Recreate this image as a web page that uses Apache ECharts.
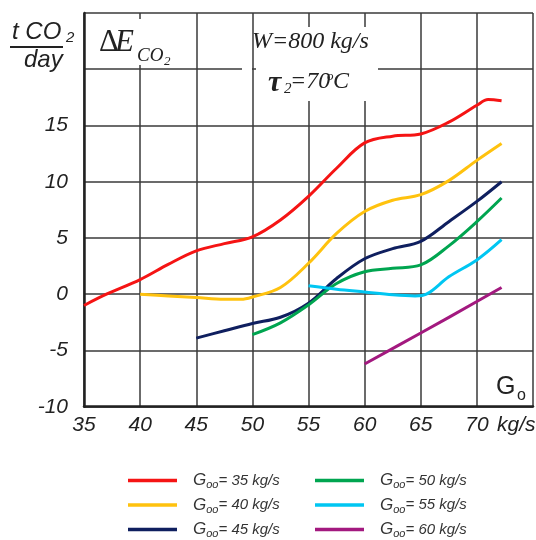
<!DOCTYPE html>
<html><head><meta charset="utf-8">
<script src="https://cdn.jsdelivr.net/npm/echarts@6/dist/echarts.min.js"></script>
<style>html,body{margin:0;padding:0;background:#fff}#c{width:536px;height:540px}</style>
</head><body><div id="c"></div>
<script>
// ---- data ----
const xTicks = [35, 40, 45, 50, 55, 60, 65, 70];
const yTicks = [-10, -5, 0, 5, 10, 15];
const legendValues = ['35', '40', '45', '50', '55', '60'];
const seriesColors = ['#f51414', '#ffc20e', '#0f1f5f', '#00a550', '#00c6f2', '#a3197f'];
const g35 = [[35,-1.0],[37,0.0],[40,1.3],[42.5,2.65],[45,3.85],[47.5,4.5],[50,5.1],[52.5,6.6],[55,8.7],[57.5,11.2],[60,13.45],[62.5,14.05],[65,14.25],[67.5,15.3],[70,16.8],[71,17.3],[72.2,17.2]];
const g40 = [[40,0.0],[42.5,-0.15],[45,-0.3],[47.5,-0.45],[49,-0.45],[50,-0.25],[52.5,0.6],[55,2.75],[57.5,5.4],[60,7.35],[62.5,8.35],[65,8.85],[67.5,10.1],[70,11.9],[72.2,13.4]];
const g45 = [[45,-3.9],[47.5,-3.25],[50,-2.6],[52.5,-2.05],[55,-0.8],[57.5,1.4],[60,3.15],[62.5,4.05],[65,4.7],[67.5,6.45],[70,8.25],[72.2,10.0]];
const g50 = [[50,-3.6],[52.5,-2.55],[55,-0.95],[57.5,0.95],[60,2.0],[62.5,2.3],[65,2.6],[67.5,4.3],[70,6.45],[72.2,8.55]];
const g55 = [[55,0.75],[57.5,0.45],[60,0.2],[62.5,-0.05],[64.5,-0.15],[65.5,0.0],[67.5,1.55],[70,3.05],[72.2,4.85]];
const g60 = [[60,-6.2],[65,-3.45],[70,-0.65],[72.2,0.6]];
const allSeries = [g35, g40, g45, g50, g55, g60];

const SANS = '"Liberation Sans", Arial, sans-serif';
const SERIF = '"Liberation Serif", "Times New Roman", serif';
const GRID = '#3a3a3a';

const chart = echarts.init(document.getElementById('c'), null, {renderer: 'canvas'});

const series = allSeries.map((d, i) => ({
  name: 'G' + legendValues[i],
  type: 'line',
  data: d,
  smooth: 0.35,
  symbol: 'none',
  z: 20,
  lineStyle: {color: seriesColors[i], width: 3},
  itemStyle: {color: seriesColors[i]}
}));

const legendRich = {
  sp: {width: 11, lineHeight: 20},
  g: {fontFamily: SANS, fontStyle: 'italic', fontSize: 17, color: '#333', lineHeight: 20},
  s: {fontFamily: SANS, fontStyle: 'italic', fontSize: 11, color: '#333', lineHeight: 10, verticalAlign: 'bottom'},
  t: {fontFamily: SANS, fontStyle: 'italic', fontSize: 15, color: '#333', lineHeight: 20}
};
function legendFmt(name) {
  return '{sp|}{g|G}{s|oo}{t|= ' + name.slice(1) + ' kg/s}';
}
function mkLegend(names, left) {
  return {
    data: names.map(n => ({name: n, icon: 'rect'})),
    orient: 'vertical', left: left, top: 472, height: 80, padding: 0,
    itemWidth: 49, itemHeight: 3.5, itemGap: 6,
    formatter: legendFmt,
    textStyle: {rich: legendRich},
    selectedMode: false
  };
}

function txt(x, y, text, size, opts) {
  return {
    type: 'text', x: x, y: y, z: 50,
    style: Object.assign({text: text, fontSize: size, fontFamily: SANS, fill: '#222', textVerticalAlign: 'middle', textAlign: 'left'}, opts || {})
  };
}

const option = {
  backgroundColor: '#fff',
  animation: false,
  grid: {left: 84, top: 13, right: 1.5, bottom: 133.3},
  xAxis: {
    type: 'value', min: 35, max: 75, interval: 5,
    axisLine: {show: true, onZero: false, lineStyle: {color: '#222', width: 2.5}},
    axisTick: {show: false},
    splitLine: {show: true, lineStyle: {color: GRID, width: 1.5}},
    axisLabel: {
      formatter: v => xTicks.includes(v) ? String(v) : '',
      fontFamily: SANS, fontStyle: 'italic', fontSize: 21, color: '#222', margin: 8
    }
  },
  yAxis: {
    type: 'value', min: -10, max: 25, interval: 5,
    axisLine: {show: true, onZero: false, lineStyle: {color: '#222', width: 2.5}},
    axisTick: {show: false},
    splitLine: {show: true, lineStyle: {color: GRID, width: 1.5}},
    axisLabel: {
      formatter: v => yTicks.includes(v) ? String(v) : '',
      fontFamily: SANS, fontStyle: 'italic', fontSize: 21, color: '#222', margin: 16
    }
  },
  legend: [
    mkLegend(['G35', 'G40', 'G45'], 128),
    mkLegend(['G50', 'G55', 'G60'], 315)
  ],
  graphic: [
    // white boxes hiding the grid behind annotations
    {type: 'rect', z: 10, shape: {x: 256, y: 27, width: 122, height: 74}, style: {fill: '#fff'}},
    {type: 'rect', z: 10, shape: {x: 242, y: 66, width: 10, height: 7}, style: {fill: '#fff'}},
    {type: 'rect', z: 10, shape: {x: 92, y: 19, width: 100, height: 46}, style: {fill: '#fff'}},
    // y-axis unit: t CO2 / day
    txt(12, 32, 't CO', 24, {fontStyle: 'italic'}),
    txt(66, 38, '2', 15, {fontStyle: 'italic'}),
    {type: 'line', z: 50, shape: {x1: 10, y1: 47, x2: 63, y2: 47}, style: {stroke: '#222', lineWidth: 2}},
    txt(24, 60, 'day', 24, {fontStyle: 'italic'}),
    // ΔE CO2
    txt(99, 43, 'Δ', 31, {fontFamily: SERIF}),
    txt(115, 43, 'E', 31, {fontFamily: SERIF, fontStyle: 'italic'}),
    txt(137, 56, 'CO', 19, {fontFamily: SERIF, fontStyle: 'italic'}),
    txt(164, 62, '2', 13, {fontFamily: SERIF, fontStyle: 'italic'}),
    // W=800 kg/s
    txt(252, 42, 'W=800 kg/s', 24, {fontFamily: SERIF, fontStyle: 'italic'}),
    // τ2=70°C
    txt(268, 83, 'τ', 30, {fontFamily: SERIF, fontStyle: 'italic', fontWeight: 'bold'}),
    txt(284, 89, '2', 15, {fontFamily: SERIF, fontStyle: 'italic'}),
    txt(290, 82, '=70', 24, {fontFamily: SERIF, fontStyle: 'italic'}),
    txt(327, 77, 'o', 13, {fontFamily: SERIF, fontStyle: 'italic'}),
    txt(333, 82, 'C', 24, {fontFamily: SERIF, fontStyle: 'italic'}),
    // G_o and kg/s on x axis
    txt(496, 387, 'G', 25, {}),
    txt(517, 396, 'o', 16, {}),
    txt(497, 425, 'kg/s', 21, {fontStyle: 'italic'})
  ],
  series: series
};
chart.setOption(option);
</script>
</body></html>
